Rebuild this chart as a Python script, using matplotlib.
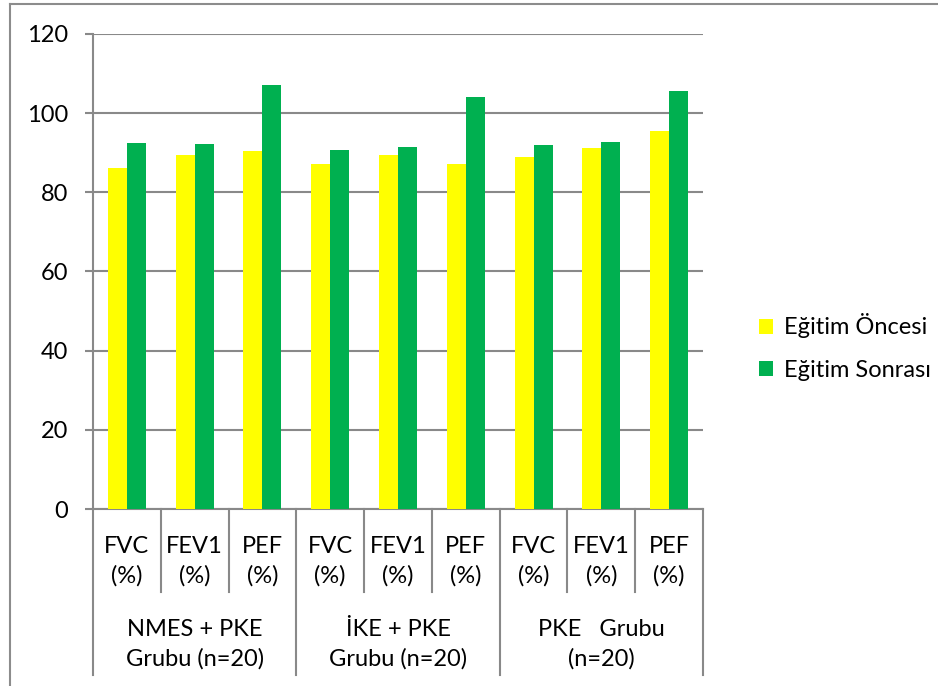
import matplotlib.pyplot as plt
from matplotlib.patches import Patch
from matplotlib.lines import Line2D
import matplotlib.transforms as mtransforms
import numpy as np

measures = ['FVC\n(%)', 'FEV1\n(%)', 'PEF\n(%)']
groups = ['NMES + PKE\nGrubu (n=20)', 'İKE + PKE\nGrubu (n=20)', 'PKE   Grubu\n(n=20)']
before = [86.1, 89.4, 90.4, 87.2, 89.4, 87.2, 89.0, 91.2, 95.5]
after = [92.4, 92.3, 107.1, 90.7, 91.5, 104.0, 92.0, 92.7, 105.6]
series_names = ['Eğitim Öncesi', 'Eğitim Sonrası']
colors = ['#FFFF00', '#00B050']

plt.rcParams['font.family'] = ['Lato', 'DejaVu Sans']
grid_col = '#898989'
fs = 17

fig = plt.figure(figsize=(9.38, 6.86), dpi=100)
ax = fig.add_axes([93 / 938, 1 - 509 / 686, 610 / 938, 475 / 686])

x = np.arange(len(before))
w = 0.28
ax.bar(x - w / 2, before, w, color=colors[0], zorder=3)
ax.bar(x + w / 2, after, w, color=colors[1], zorder=3)

ax.set_xlim(-0.5, len(before) - 0.5)
ax.set_ylim(0, 120)
ax.set_yticks(range(0, 121, 20))
ax.yaxis.grid(True, color=grid_col, linewidth=1.5, zorder=0)
ax.tick_params(axis='y', labelsize=fs, length=5.8, width=1.5, color=grid_col, pad=12)
ax.set_xticks([])
for s in ['top', 'right']:
    ax.spines[s].set_visible(False)
ax.spines['left'].set_color(grid_col)
ax.spines['left'].set_linewidth(1.5)
ax.spines['bottom'].set_color(grid_col)
ax.spines['bottom'].set_linewidth(1.5)

# two-level category axis below the plot
trans = mtransforms.blended_transform_factory(ax.transData, ax.transAxes)
px = 1 / 475
sub_bottom = -(592 - 509) * px
grp_bottom = -(675 - 509) * px
for i in range(len(before) + 1):
    xs = i - 0.5
    yb = grp_bottom if i % 3 == 0 else sub_bottom
    ax.add_line(Line2D([xs, xs], [0, yb], transform=trans, color=grid_col,
                       linewidth=1.5, clip_on=False))
for i in range(len(before)):
    ax.text(i, -(561 - 509) * px, measures[i % 3], transform=trans, ha='center',
            va='center', fontsize=fs, linespacing=1.45)
for g, label in enumerate(groups):
    ax.text(3 * g + 1, -(644 - 509) * px, label, transform=trans, ha='center',
            va='center', fontsize=fs, linespacing=1.45)

# chart frame
fig.add_artist(Line2D([10 / 938, 10 / 938], [0, 1 - 4 / 686], color='#8c8c8c', linewidth=1.5))
fig.add_artist(Line2D([10 / 938, 1], [1 - 4 / 686, 1 - 4 / 686], color='#8c8c8c', linewidth=1.5))

handles = [Patch(facecolor=c, edgecolor='none') for c in colors]
fig.legend(handles, series_names, loc='center left', bbox_to_anchor=(738 / 938, 1 - 347 / 686),
           frameon=False, fontsize=fs, handlelength=0.6, handleheight=0.6,
           handletextpad=0.45, labelspacing=0.9)

fig.savefig('out.png', dpi=100)
